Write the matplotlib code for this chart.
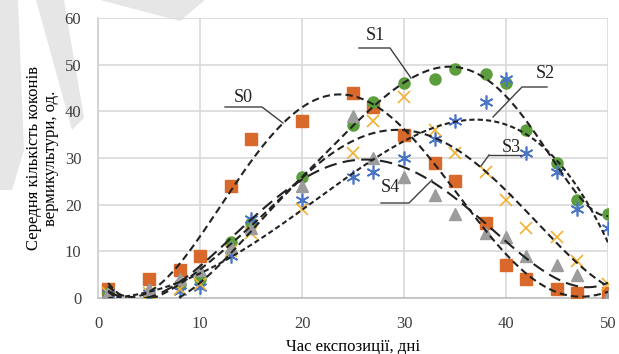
import numpy as np
import matplotlib
matplotlib.use("Agg")
import matplotlib.pyplot as plt
from matplotlib.patches import Polygon

plt.rcParams['font.family'] = ['Liberation Serif', 'DejaVu Serif']

# дні експозиції
days = [1, 5, 8, 10, 13, 15, 20, 25, 27, 30, 33, 35, 38, 40, 42, 45, 47, 50]

s0 = [2, 4, 6, 9, 24, 34, 38, 44, 41, 35, 29, 25, 16, 7, 4, 2, 1, 1]
s1 = [1, 1, 3, 4, 12, 16, 26, 37, 42, 46, 47, 49, 48, 46, 36, 29, 21, 18]
s2 = [1, 1, 1.4, 2.4, 9, 17, 21, 26, 27, 30, 34, 38, 42, 47, 31, 27, 19, 15]
s3 = [1, 1, 2, 3, 10, 14, 19, 31, 38, 43, 36, 31, 27, 21, 15, 13, 8, 3]
s4 = [1, 2, 4, 6, 11, 15, 24, 39, 30, 26, 22, 18, 14, 13, 9, 7, 5, 0.5]

names = ['S0', 'S1', 'S2', 'S3', 'S4']
# степінь поліноміального тренду для кожної серії
orders = [6, 6, 4, 4, 4]

fig = plt.figure(figsize=(6.19, 3.54), dpi=100)

# водяний знак у лівому верхньому куті
W, H = 619.0, 354.0
def px(pts):
    return [(x / W, 1 - y / H) for x, y in pts]
for pts in ([(0, 0), (18, 0), (24, 150), (12, 190), (0, 190)],
            [(36, 0), (64, 0), (84, 118), (72, 130)],
            [(100, 0), (205, 0), (180, 21)]):
    fig.patches.append(Polygon(px(pts), closed=True, transform=fig.transFigure,
                               facecolor='#e6e6e6', edgecolor='none', zorder=0))

ax = fig.add_axes([98 / W, 1 - 298 / H, 510 / W, 280 / H])
ax.set_facecolor('none')
ax.set_zorder(2)

x = np.array(days, dtype=float)
xs = np.linspace(1, 50, 300)

styles = [
    (s0, dict(marker='s', color='#D9692A', ms=8, ls='none'), (3.5, 2)),
    (s1, dict(marker='o', color='#5C9E3D', ms=8, ls='none'), (3.5, 2)),
    (s2, dict(marker=(6, 2, 0), color='#4A74C6', ms=10, ls='none', mew=1.2), (2.5, 1.5)),
    (s3, dict(marker='x', color='#F2B132', ms=8, ls='none', mew=1.2), (3.5, 2)),
    (s4, dict(marker='^', color='#9C9C9C', ms=8, ls='none'), (6, 3)),
]

for vals, mk, dash in styles:
    ax.plot(days, vals, zorder=3, **mk)

# поліноміальні лінії тренду
for (vals, mk, dash), deg in zip(styles, orders):
    c = np.polyfit(x, np.array(vals, dtype=float), deg)
    ax.plot(xs, np.polyval(c, xs), color='#222222', lw=1.5,
            dashes=dash, zorder=4)

ax.set_xlim(0, 50)
ax.set_ylim(0, 60)
ax.set_xticks(range(0, 51, 10))
ax.set_yticks(range(0, 61, 10))
ax.grid(True, color='#d9d9d9', lw=1.2)
ax.set_axisbelow(True)
for sp in ['top', 'right']:
    ax.spines[sp].set_visible(False)
ax.spines['left'].set_color('#d0d0d0')
ax.spines['bottom'].set_color('#bfbfbf')
ax.spines['left'].set_linewidth(1.2)
ax.spines['bottom'].set_linewidth(1.2)
ax.tick_params(length=0, labelsize=12, labelcolor='#404040')
ax.tick_params(axis='x', pad=13)
ax.tick_params(axis='y', pad=12)

ax.set_xlabel('Час експозиції, дні', fontsize=12, labelpad=5)
ax.set_ylabel('Середня кількість коконів\nвермикультури, од.', fontsize=12,
              labelpad=4, linespacing=1.1)

# підписи кривих з виносками
labels = [
    ('S0', (243, 97), [(225, 107), (262, 107), (283, 123)]),
    ('S1', (375, 35), [(359, 48), (390, 48), (411, 78)]),
    ('S2', (545, 74), [(547, 87), (522, 87), (493, 117)]),
    ('S3', (511, 147), [(489, 155), (521, 155)]),
    ('S4', (390, 188), [(381, 203), (409, 203), (432, 180)]),
]
for txt, (tx, ty), line in labels:
    fig.text(tx / W, 1 - ty / H, txt, fontsize=13, ha='center', va='center',
             color='#222222', zorder=5)
    xs_l = [p[0] / W for p in line]
    ys_l = [1 - p[1] / H for p in line]
    fig.add_artist(plt.Line2D(xs_l, ys_l, transform=fig.transFigure,
                              color='#404040', lw=1.0, zorder=5))
# S3 косий відрізок
fig.add_artist(plt.Line2D([489 / W, 481 / W], [1 - 155 / H, 1 - 166 / H],
                          transform=fig.transFigure, color='#404040', lw=1.0,
                          zorder=5))

fig.savefig('out.png', dpi=100)
